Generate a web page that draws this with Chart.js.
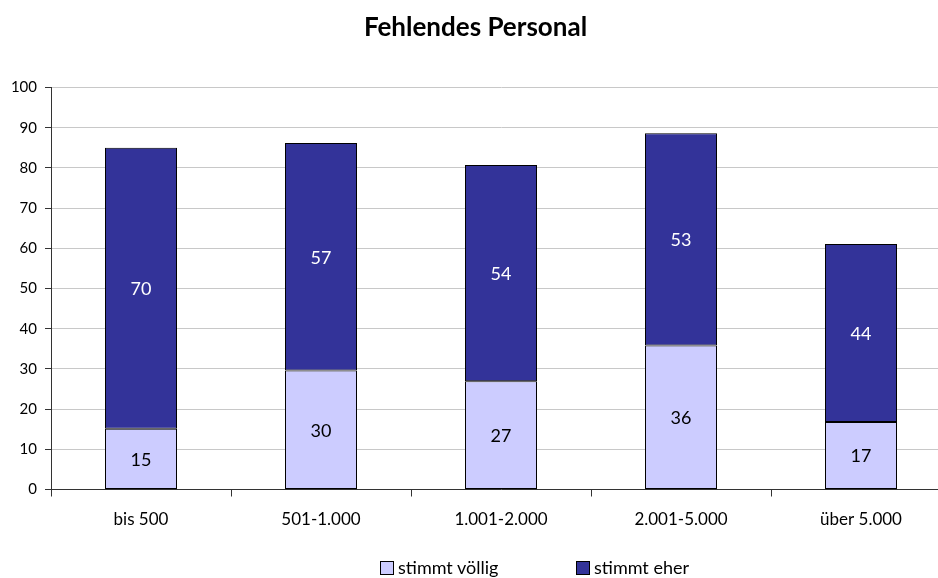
<!DOCTYPE html>
<html>
<head>
<meta charset="utf-8">
<script src="https://cdn.jsdelivr.net/npm/chart.js@4.4.1/dist/chart.umd.min.js"></script>
<style>
  html, body { margin: 0; padding: 0; background: #fff; overflow: hidden; width: 938px; height: 578px; }
  #wrap { position: relative; width: 955px; height: 578px; }
  #c { position: absolute; left: 0; top: 0; }
  #legend { position: absolute; left: 380px; top: 556px; font-family: Lato, sans-serif; font-size: 18px; color: #000; white-space: nowrap; line-height: 22px; }
  .item { position: absolute; top: 0; }
  .box { display: inline-block; width: 12px; height: 12px; border: 1px solid #000; vertical-align: -1px; margin-right: 4px; }
</style>
</head>
<body>
<div id="wrap">
  <canvas id="c" width="955" height="578" style="width:955px;height:578px"></canvas>
  <div id="legend"></div>
</div>
<script>
const title = "Fehlendes Personal";
const categories = ["bis 500", "501-1.000", "1.001-2.000", "2.001-5.000", "über 5.000"];
const seriesNames = ["stimmt völlig", "stimmt eher"];
const stimmtVoellig = [15.1, 29.6, 26.9, 35.8, 16.8];
const stimmtEher = [69.9, 56.6, 53.8, 52.8, 44.3];
const yTicks = [0, 10, 20, 30, 40, 50, 60, 70, 80, 90, 100];
const colors = ["#CCCCFF", "#333399"];
const labelColors = ["#000000", "#FFFFFF"];

const FONT = "Lato, 'Open Sans', sans-serif";

const valueLabels = {
  id: "valueLabels",
  afterDatasetsDraw(chart) {
    const ctx = chart.ctx;
    ctx.save();
    ctx.font = "18px " + FONT;
    ctx.textAlign = "center";
    ctx.textBaseline = "middle";
    chart.data.datasets.forEach((ds, di) => {
      const meta = chart.getDatasetMeta(di);
      meta.data.forEach((bar, i) => {
        const p = bar.getProps(["x", "y", "base"], true);
        ctx.fillStyle = labelColors[di];
        ctx.fillText(String(Math.round(ds.data[i])), p.x, (p.y + p.base) / 2 + 1);
      });
    });
    ctx.restore();
  }
};

const chart = new Chart(document.getElementById("c"), {
  type: "bar",
  data: {
    labels: categories,
    datasets: [
      { label: seriesNames[0], data: stimmtVoellig, backgroundColor: colors[0], borderColor: "#000", borderWidth: 1, borderSkipped: false },
      { label: seriesNames[1], data: stimmtEher, backgroundColor: colors[1], borderColor: "#000", borderWidth: 1, borderSkipped: false }
    ]
  },
  options: {
    responsive: false,
    animation: false,
    layout: { padding: { left: 0, right: 4, top: 0, bottom: 48.5 } },
    plugins: {
      legend: { display: false },
      tooltip: { enabled: false },
      title: {
        display: true,
        text: title,
        color: "#000",
        font: { family: FONT, size: 26, weight: "bold" },
        padding: { top: 12.4, bottom: 43.9 }
      }
    },
    datasets: { bar: { categoryPercentage: 1.0, barPercentage: 0.4 } },
    scales: {
      x: {
        stacked: true,
        afterFit: (s) => { s.height = 40; },
        grid: { display: true, drawOnChartArea: false, drawTicks: true, tickLength: 7, tickColor: "#333", offset: true },
        border: { display: true, color: "#333", width: 1 },
        ticks: { color: "#000", font: { family: FONT, size: 17 }, padding: 13, maxRotation: 0, autoSkip: false }
      },
      y: {
        stacked: true,
        min: 0,
        max: 100,
        afterFit: (s) => { s.width = 51; },
        afterBuildTicks: (s) => { s.ticks = yTicks.map(v => ({ value: v })); },
        grid: { color: "#c8c8c8", tickColor: "#333", tickLength: 6, drawTicks: true },
        border: { display: true, color: "#333", width: 1 },
        ticks: { color: "#000", font: { family: FONT, size: 15 }, padding: 8 }
      }
    }
  },
  plugins: [valueLabels]
});

// legend built from the dataset names/colors
const leg = document.getElementById("legend");
const offsets = [0, 196];
chart.data.datasets.forEach((ds, i) => {
  const it = document.createElement("span");
  it.className = "item";
  it.style.left = offsets[i] + "px";
  const b = document.createElement("span");
  b.className = "box";
  b.style.background = ds.backgroundColor;
  it.appendChild(b);
  it.appendChild(document.createTextNode(ds.label));
  leg.appendChild(it);
});
</script>
</body>
</html>
